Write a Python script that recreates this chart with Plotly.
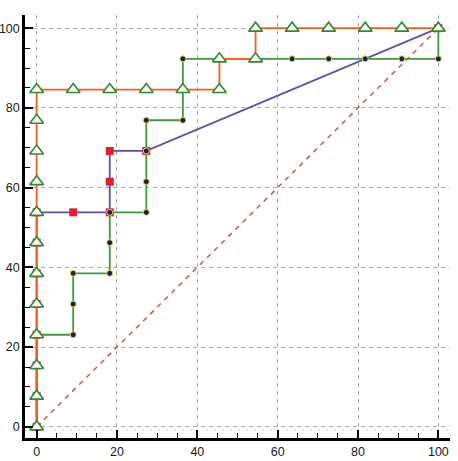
import plotly.graph_objects as go

# Orange step curve with open triangles
orange_x = [0, 0, 0, 0, 0, 0, 0, 0, 0, 0, 0, 0,
            9.1, 18.2, 27.3, 36.4, 45.5, 45.5, 54.5, 54.5,
            63.6, 72.7, 81.8, 90.9, 100]
orange_y = [0, 7.7, 15.4, 23.1, 30.8, 38.5, 46.2, 53.8, 61.5, 69.2, 76.9, 84.6,
            84.6, 84.6, 84.6, 84.6, 84.6, 92.3, 92.3, 100,
            100, 100, 100, 100, 100]

# Green step curve with dark dots
green_x = [0, 0, 0, 0, 9.1, 9.1, 9.1, 18.2, 18.2, 18.2,
           27.3, 27.3, 27.3, 27.3, 36.4, 36.4, 36.4,
           45.5, 54.5, 63.6, 72.7, 81.8, 90.9, 100, 100]
green_y = [0, 7.7, 15.4, 23.1, 23.1, 30.8, 38.5, 38.5, 46.2, 53.8,
           53.8, 61.5, 69.2, 76.9, 76.9, 84.6, 92.3,
           92.3, 92.3, 92.3, 92.3, 92.3, 92.3, 92.3, 100]

# Purple curve with red squares
purple_x = [0, 0, 0, 0, 0, 0, 0, 0, 9.1, 18.2, 18.2, 18.2, 27.3, 100]
purple_y = [0, 7.7, 15.4, 23.1, 30.8, 38.5, 46.2, 53.8, 53.8, 53.8, 61.5, 69.2, 69.2, 100]

# Diagonal reference
diag_x = [0, 100]
diag_y = [0, 100]

tick_vals = [0, 20, 40, 60, 80, 100]

fig = go.Figure()
fig.add_trace(go.Scatter(x=diag_x, y=diag_y, mode="lines",
                         line=dict(color="#C9574E", width=1.5, dash="5px,5px"),
                         showlegend=False))
fig.add_trace(go.Scatter(x=purple_x, y=purple_y, mode="lines+markers",
                         line=dict(color="#5B4FB0", width=1.8),
                         marker=dict(symbol="square", size=8, color="#E0202C"),
                         showlegend=False))
fig.add_trace(go.Scatter(x=green_x, y=green_y, mode="lines+markers",
                         line=dict(color="#3E9A3A", width=1.8),
                         marker=dict(symbol="circle", size=6, color="#1E1E50",
                                     line=dict(color="#E6DA50", width=1)),
                         showlegend=False))
fig.add_trace(go.Scatter(x=orange_x, y=orange_y, mode="lines+markers",
                         line=dict(color="#FF5A1E", width=1.8),
                         marker=dict(symbol="triangle-up", size=12, color="white",
                                     line=dict(color="#2E8B2E", width=1.6)),
                         showlegend=False))

axis_common = dict(
    tickvals=tick_vals,
    automargin=False,
    showgrid=True, gridcolor="#AAAAAA", gridwidth=1, griddash="4px,4px",
    zeroline=False,
    showline=True, linecolor="black", linewidth=2.5,
    ticks="inside", ticklen=8, tickwidth=1.5, tickcolor="black",
    minor=dict(dtick=5, tick0=0, ticks="inside", ticklen=5, tickwidth=1,
               tickcolor="black", showgrid=False),
    tickfont=dict(family="Liberation Sans, Arial", size=12.5, color="#1a1a1a"),
)

fig.update_layout(
    width=458, height=461,
    margin=dict(l=25, r=8, t=15, b=23, autoexpand=False),
    plot_bgcolor="white", paper_bgcolor="white",
    xaxis=dict(range=[-2.9, 102.9], **axis_common),
    yaxis=dict(range=[-2.8, 103.3], **axis_common),
)

fig.write_html("out.html",
               config={"displayModeBar": False},
               post_script="document.body.style.margin='0px';document.body.style.overflow='hidden';")
